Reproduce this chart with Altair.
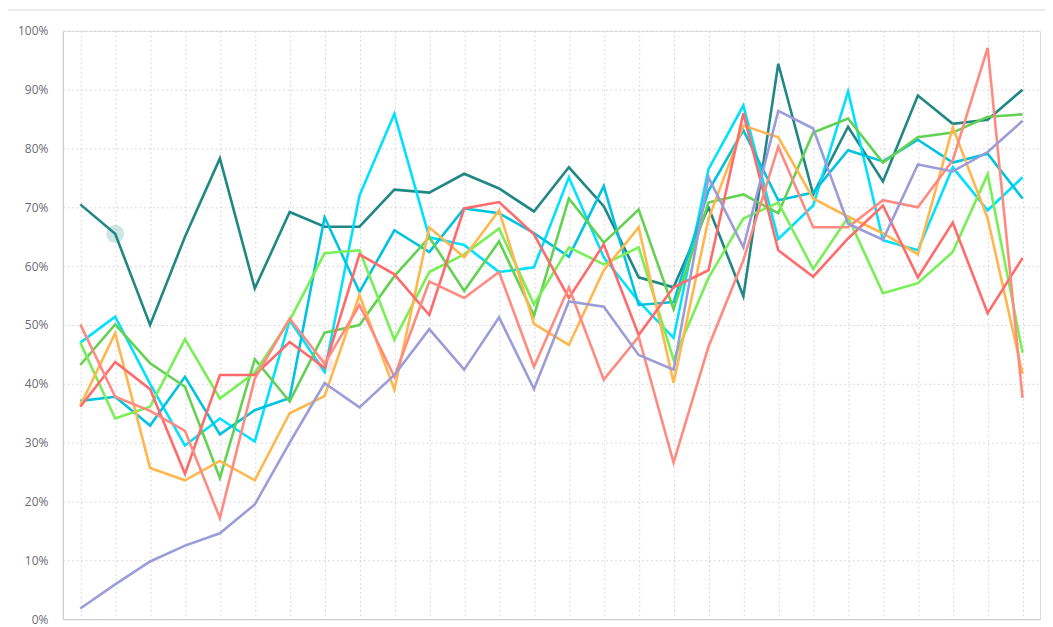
import altair as alt
import pandas as pd

# x positions (28 time steps, unlabeled)
steps = list(range(28))

series_names = ["teal", "cyan", "cyan2", "green", "lime", "orange", "red", "salmon", "lavender"]
series_colors = ["#1f8784", "#00e1ff", "#00c3e0", "#63d151", "#76f054", "#ffb74d", "#ff6b6b", "#ff8a80", "#9c9cd8"]

teal = [70.5, 65.5, 50.0, 65.0, 78.3, 56.2, 69.2, 66.7, 66.7, 73.0, 72.5, 75.7, 73.2, 69.3,
        76.8, 70.2, 58.1, 56.4, 70.0, 54.9, 94.4, 72.2, 83.7, 74.4, 89.0, 84.2, 84.9, 90.0]
cyan = [47.0, 51.4, 40.0, 29.5, 34.1, 30.2, 50.8, 42.0, 72.0, 85.9, 64.9, 63.6, 59.0, 59.8,
        75.1, 61.5, 54.0, 47.8, 76.5, 87.3, 64.6, 70.3, 89.7, 64.4, 62.7, 76.8, 69.5, 75.1]
cyan2 = [37.1, 37.8, 32.9, 41.2, 31.4, 35.5, 37.6, 68.3, 55.6, 66.1, 62.4, 69.8, 69.0, 65.6,
         61.6, 73.6, 53.4, 53.9, 72.8, 83.1, 71.2, 72.5, 79.7, 77.8, 81.5, 77.6, 79.1, 71.5]
green = [43.2, 50.1, 43.5, 39.5, 24.0, 44.2, 37.0, 48.7, 50.0, 58.3, 64.9, 55.8, 64.2, 51.6,
         71.5, 64.0, 69.6, 52.7, 70.8, 72.2, 69.0, 82.7, 85.1, 77.6, 81.9, 82.7, 85.4, 85.8]
lime = [47.0, 34.1, 36.1, 47.6, 37.5, 41.9, 50.8, 62.2, 62.7, 47.5, 59.0, 62.0, 66.4, 53.5,
        63.2, 60.3, 63.2, 44.1, 58.0, 68.1, 70.8, 59.5, 68.3, 55.4, 57.1, 62.4, 75.6, 45.3]
orange = [36.3, 48.6, 25.7, 23.6, 26.9, 23.6, 35.0, 37.9, 55.1, 39.0, 66.6, 61.5, 69.5, 50.2,
          46.6, 59.3, 66.6, 40.2, 68.0, 83.9, 81.9, 71.5, 68.4, 65.6, 62.0, 83.6, 68.1, 41.7]
red = [36.1, 43.7, 39.1, 24.7, 41.5, 41.5, 47.1, 42.7, 62.0, 58.6, 51.7, 69.8, 70.9, 65.4,
       54.6, 63.7, 48.3, 56.4, 59.3, 86.0, 62.7, 58.2, 64.7, 70.3, 58.1, 67.4, 52.0, 61.4]
salmon = [50.1, 37.8, 35.4, 32.0, 17.2, 40.9, 51.1, 43.4, 53.4, 41.2, 57.4, 54.6, 59.0, 42.9,
          56.4, 40.7, 48.0, 26.6, 46.3, 61.0, 80.3, 66.6, 66.6, 71.2, 70.0, 78.0, 97.1, 37.6]
lavender = [1.8, 5.9, 9.8, 12.5, 14.6, 19.5, 30.0, 40.1, 36.0, 41.5, 49.3, 42.4, 51.3, 39.1,
            54.0, 53.1, 44.9, 42.4, 75.1, 63.2, 86.4, 83.4, 67.2, 64.5, 77.3, 76.1, 79.4, 84.7]

# hovered points (faint halo markers)
hover_series = ["teal", "salmon"]
hover_steps = [1, 7]

all_values = [teal, cyan, cyan2, green, lime, orange, red, salmon, lavender]
rows = []
for order, (name, vals) in enumerate(zip(series_names, all_values)):
    for s, v in zip(steps, vals):
        rows.append({"step": s, "series": name, "value": v / 100.0, "order": order})
df = pd.DataFrame(rows)

hrows = []
for name, s in zip(hover_series, hover_steps):
    idx = series_names.index(name)
    hrows.append({"step": s, "series": name, "value": all_values[idx][s] / 100.0})
hdf = pd.DataFrame(hrows)

x_enc = alt.X("step:O", scale=alt.Scale(type="point", padding=0.5),
              axis=alt.Axis(labels=False, ticks=False, title=None, grid=True,
                            gridColor="#d0d0d0", gridDash=[1.5, 3], gridWidth=1,
                            domainColor="#cccccc", domainWidth=1))
y_enc = alt.Y("value:Q", scale=alt.Scale(domain=[0, 1], nice=False),
              axis=alt.Axis(format="%", values=[i / 10 for i in range(11)], title=None,
                            ticks=False, tickSize=0, labelPadding=15,
                            labelFont="Open Sans", labelFontSize=12, labelColor="#6b6b76",
                            grid=True, gridColor="#d0d0d0", gridDash=[1.5, 3], gridWidth=1,
                            domainColor="#cccccc", domainWidth=1))
color_enc = alt.Color("series:N", scale=alt.Scale(domain=series_names, range=series_colors), legend=None)

lines = alt.Chart(df).mark_line(strokeWidth=2.6, strokeJoin="miter").encode(
    x=x_enc, y=y_enc, color=color_enc, detail="series:N", order="step:O"
)

halo = alt.Chart(hdf).mark_circle(size=330, opacity=0.22).encode(
    x="step:O", y="value:Q", color=alt.Color("series:N", scale=alt.Scale(domain=series_names, range=series_colors), legend=None)
)

top_rule = alt.Chart(pd.DataFrame({"k": [0]})).mark_rule(color="#e6e6e6", strokeWidth=1.5).encode(
    x=alt.value(-70), x2=alt.value(1000), y=alt.value(-21)
)

chart = alt.layer(halo, lines, top_rule).properties(
    width=980, height=590,
    autosize=alt.AutoSizeParams(type="none"),
    padding={"left": 55, "top": 22, "right": 5, "bottom": 7},
).configure_view(stroke=None).configure(background="white")

chart.save("out.html", embed_options={"renderer": "svg", "actions": False})
